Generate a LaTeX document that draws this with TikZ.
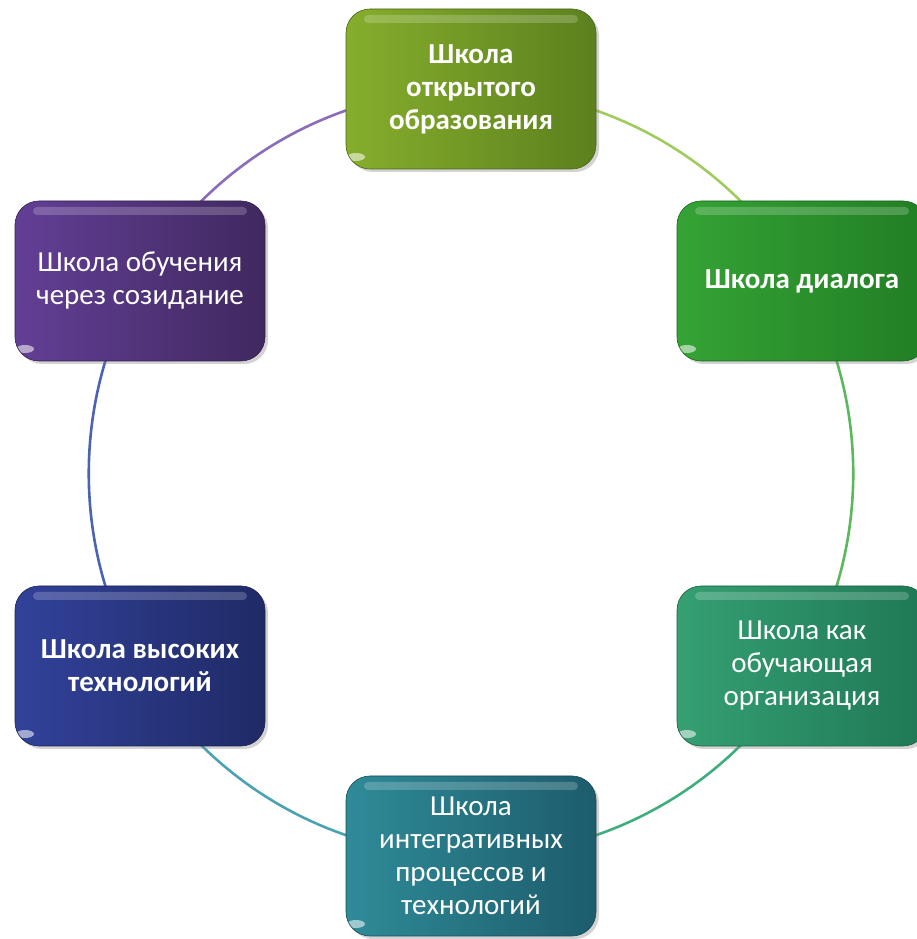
\documentclass[tikz,border=0pt]{standalone}
\usepackage{fontspec}
\setmainfont{Carlito}
\usetikzlibrary{shadows,backgrounds}
\definecolor{topL}{HTML}{86AE2C}\definecolor{topR}{HTML}{5C801E}
\definecolor{rtL}{HTML}{35A335}\definecolor{rtR}{HTML}{217E24}
\definecolor{rbL}{HTML}{35A072}\definecolor{rbR}{HTML}{1F7855}
\definecolor{bL}{HTML}{2F8B98}\definecolor{bR}{HTML}{1D5C6C}
\definecolor{lbL}{HTML}{32429A}\definecolor{lbR}{HTML}{1F2A66}
\definecolor{ltL}{HTML}{633F96}\definecolor{ltR}{HTML}{40285F}
\definecolor{arcA}{HTML}{9FCB5F}
\definecolor{arcB}{HTML}{5CB85C}
\definecolor{arcC}{HTML}{3FAE7E}
\definecolor{arcD}{HTML}{4AA3B2}
\definecolor{arcE}{HTML}{4A63B3}
\definecolor{arcF}{HTML}{8A6CBA}
\tikzset{
  schoolbox/.style 2 args={
    rectangle, rounded corners=24pt,
    minimum width=250pt, minimum height=160pt,
    left color=#1, right color=#2,
    draw=#2!80!black, line width=0.6pt,
    drop shadow={shadow xshift=3pt, shadow yshift=-3pt, opacity=0.35},
    text=white, align=center,
    font=\fontsize{29}{33}\selectfont,
    path picture={
      \fill[white, opacity=0.2, rounded corners=4pt]
        ([xshift=18pt,yshift=-6pt]path picture bounding box.north west)
        rectangle ([xshift=-18pt,yshift=-14pt]path picture bounding box.north east);
      \fill[white, opacity=0.55, rotate around={50:([xshift=10pt,yshift=12pt]path picture bounding box.south west)}]
        ([xshift=10pt,yshift=12pt]path picture bounding box.south west) ellipse [x radius=9pt, y radius=4pt];
    }
  },
  ring/.style={line width=2.6pt, bend left=30, looseness=0.91}
}
\begin{document}
\begin{tikzpicture}[x=1pt,y=1pt]
\useasboundingbox (0,0) rectangle (916,939);
\node[schoolbox={topL}{topR}] (top) at (471,850) {\bfseries Школа\\\bfseries открытого\\\bfseries образования};
\node[schoolbox={rtL}{rtR}] (rt) at (802,658) {\bfseries Школа диалога};
\node[schoolbox={rbL}{rbR}] (rb) at (802,273) {Школа как\\обучающая\\организация};
\node[schoolbox={bL}{bR}] (bot) at (471,83) {Школа\\интегративных\\процессов и\\технологий};
\node[schoolbox={lbL}{lbR}] (lb) at (140,273) {\bfseries Школа высоких\\\bfseries технологий};
\node[schoolbox={ltL}{ltR}] (lt) at (140,658) {Школа обучения\\через созидание};
\begin{scope}[on background layer]
\draw[ring, arcA] (top.center) to (rt.center);
\draw[ring, arcB] (rt.center) to (rb.center);
\draw[ring, arcC] (rb.center) to (bot.center);
\draw[ring, arcD] (bot.center) to (lb.center);
\draw[ring, arcE] (lb.center) to (lt.center);
\draw[ring, arcF] (lt.center) to (top.center);
\end{scope}
\end{tikzpicture}
\end{document}
